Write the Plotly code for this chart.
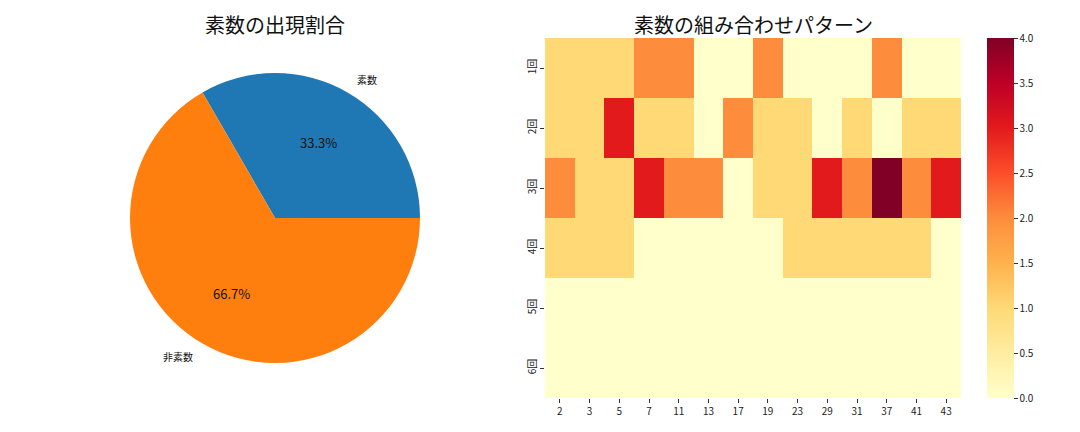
import math
import plotly.graph_objects as go

# pie data
pie_labels = ["素数", "非素数"]
pie_values = [1, 2]
pie_colors = ["#1f77b4", "#ff7f0e"]

# heatmap data
primes = ["2", "3", "5", "7", "11", "13", "17", "19", "23", "29", "31", "37", "41", "43"]
rounds = ["1回", "2回", "3回", "4回", "5回", "6回"]
counts = [
    [1, 1, 1, 2, 2, 0, 0, 2, 0, 0, 0, 2, 0, 0],
    [1, 1, 3, 1, 1, 0, 2, 1, 1, 0, 1, 0, 1, 1],
    [2, 1, 1, 3, 2, 2, 0, 1, 1, 3, 2, 4, 2, 3],
    [1, 1, 1, 0, 0, 0, 0, 0, 1, 1, 1, 1, 1, 0],
    [0, 0, 0, 0, 0, 0, 0, 0, 0, 0, 0, 0, 0, 0],
    [0, 0, 0, 0, 0, 0, 0, 0, 0, 0, 0, 0, 0, 0],
]

W, H = 1080, 432
FONT = "Noto Sans CJK JP"
ylorrd = ["#ffffcc", "#ffeda0", "#fed976", "#feb24c", "#fd8d3c",
          "#fc4e2a", "#e31a1c", "#bd0026", "#800026"]

# pie geometry (pixels)
cx, cy, r = 275, 218, 145

fig = go.Figure()

# matplotlib starts at 3 o'clock going counterclockwise; in plotly that is
# the first slice going clockwise from the end angle of the first slice
first_deg = pie_values[0] / sum(pie_values) * 360
fig.add_trace(go.Pie(
    labels=pie_labels, values=pie_values,
    marker=dict(colors=pie_colors),
    sort=False, direction="clockwise", rotation=90 - first_deg,
    textinfo="none", showlegend=False, hoverinfo="label+percent",
    domain=dict(x=[(cx - r) / W, (cx + r) / W], y=[1 - (cy + r) / H, 1 - (cy - r) / H]),
))

fig.add_trace(go.Heatmap(
    z=counts, x=primes, y=rounds,
    colorscale=[[i / 8, c] for i, c in enumerate(ylorrd)],
    zmin=0, zmax=4,
    colorbar=dict(
        x=987 / W, xanchor="left", y=1 - 398 / H, yanchor="bottom",
        len=360 / H, lenmode="fraction", thickness=27, thicknessmode="pixels",
        xpad=0, ypad=0,
        outlinewidth=0, ticks="outside", ticklen=4, tickcolor="#333",
        tick0=0, dtick=0.5, tickformat=".1f",
        tickfont=dict(size=10, color="#222", family=FONT),
    ),
))

# pie labels and percentages, matplotlib style
total = sum(pie_values)
start = 0.0
annotations = []
for lab, v in zip(pie_labels, pie_values):
    frac = v / total
    mid = math.radians((start + frac / 2) * 360)
    start += frac
    px = cx + 0.6 * r * math.cos(mid)
    py = cy - 0.6 * r * math.sin(mid)
    annotations.append(dict(x=px / W, y=1 - py / H, xref="paper", yref="paper",
                            xanchor="center", yanchor="middle",
                            text="%.1f%%" % (frac * 100), showarrow=False,
                            font=dict(size=13, color="#111", family=FONT)))
    lx = cx + 1.1 * r * math.cos(mid)
    ly = cy - 1.1 * r * math.sin(mid)
    annotations.append(dict(x=lx / W, y=1 - ly / H, xref="paper", yref="paper",
                            xanchor="left" if math.cos(mid) > 0 else "right",
                            yanchor="middle",
                            text=lab, showarrow=False,
                            font=dict(size=10, color="#111", family=FONT)))

annotations.append(dict(x=275 / W, y=1 - 25 / H, xref="paper", yref="paper",
                        xanchor="center", yanchor="middle",
                        text="素数の出現割合", showarrow=False,
                        font=dict(size=20, color="#111", family=FONT)))
annotations.append(dict(x=753 / W, y=1 - 25 / H, xref="paper", yref="paper",
                        xanchor="center", yanchor="middle",
                        text="素数の組み合わせパターン", showarrow=False,
                        font=dict(size=20, color="#111", family=FONT)))

fig.update_layout(
    width=W, height=H,
    margin=dict(l=0, r=0, t=0, b=0),
    paper_bgcolor="white", plot_bgcolor="white",
    font=dict(family=FONT),
    annotations=annotations,
    xaxis=dict(domain=[545 / W, 961 / W], type="category",
               ticks="outside", ticklen=4, tickcolor="#333", showgrid=False,
               zeroline=False, showline=False,
               tickfont=dict(size=10, color="#222", family=FONT)),
    yaxis=dict(domain=[1 - 398 / H, 1 - 38 / H], type="category", autorange="reversed",
               ticks="outside", ticklen=4, tickcolor="#333", showgrid=False,
               zeroline=False, showline=False, tickangle=-90,
               tickfont=dict(size=10, color="#222", family=FONT)),
)

fig.write_html("out.html", config={"displayModeBar": False},
               post_script="document.body.style.margin='0';")
